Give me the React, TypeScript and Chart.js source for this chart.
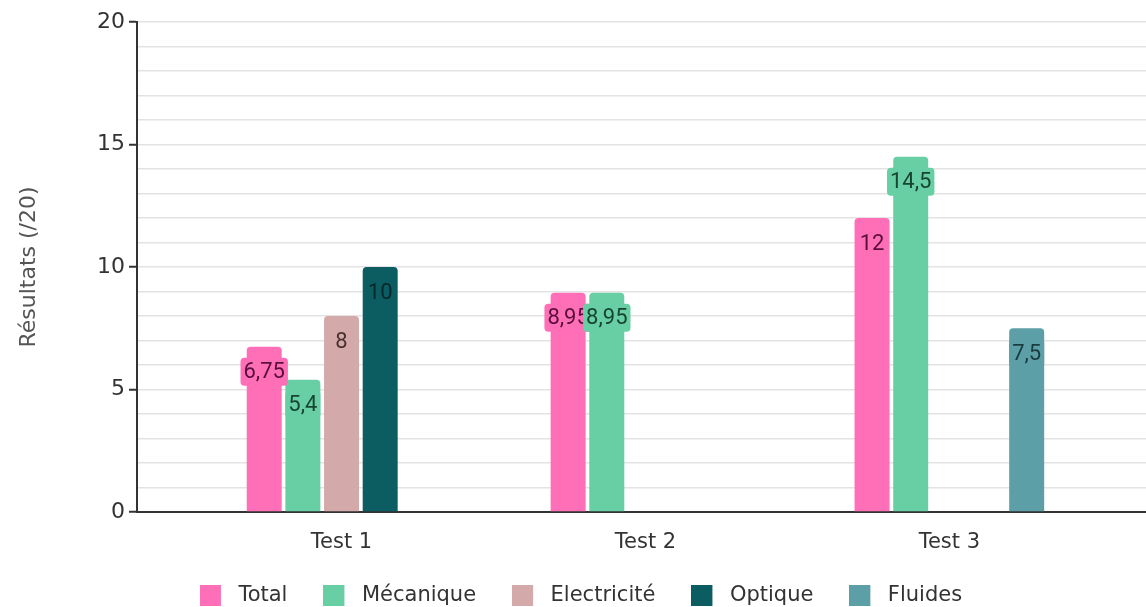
import React, { useEffect, useRef } from "react";
import { Chart, registerables } from "chart.js";

Chart.register(...registerables);

const categories = ["Test 1", "Test 2", "Test 3"];
const categoryPositions = [1, 2, 3];
const seriesNames = ["Total", "Mécanique", "Electricité", "Optique", "Fluides"];
const totalValues = [6.75, 8.95, 12];
const mecaniqueValues = [5.4, 8.95, 14.5];
const electriciteValues = [8, null, null];
const optiqueValues = [10, null, null];
const fluidesValues = [null, null, 7.5];
const yTicks = [0, 5, 10, 15, 20];

const seriesValues = [totalValues, mecaniqueValues, electriciteValues, optiqueValues, fluidesValues];
const barColors = ["#ff6fb7", "#68cfa5", "#d4a9a9", "#0c5d61", "#5c9fa6"];
const labelColors = ["#5a0e3c", "#17452f", "#4a3131", "#05292b", "#1a3c40"];

const FONT = "'DejaVu Sans', 'Noto Sans', sans-serif";

const valueLabelPlugin = {
  id: "valueLabels",
  afterDatasetsDraw(chart: any) {
    const ctx = chart.ctx;
    ctx.save();
    ctx.font = "22px Roboto, 'Noto Sans', sans-serif";
    ctx.textAlign = "center";
    ctx.textBaseline = "middle";
    chart.data.datasets.forEach((ds: any, di: number) => {
      const meta = chart.getDatasetMeta(di);
      meta.data.forEach((bar: any, i: number) => {
        const v = ds.data[i].y;
        if (v == null) return;
        const text = String(v).replace(".", ",");
        const w = ctx.measureText(text).width;
        const cx = bar.x;
        const cy = bar.y + 25;
        ctx.fillStyle = barColors[di];
        ctx.beginPath();
        (ctx as any).roundRect(cx - w / 2 - 3, cy - 14, w + 6, 28, 4);
        ctx.fill();
        ctx.fillStyle = labelColors[di];
        ctx.fillText(text, cx, cy + 1);
      });
    });
    ctx.restore();
  },
};

function makeLegendSwatch(color: string) {
  const c = document.createElement("canvas");
  c.width = 28;
  c.height = 21;
  const g = c.getContext("2d");
  if (g) {
    g.fillStyle = color;
    g.fillRect(0, 0, 21, 21);
  }
  return c;
}

export default function App() {
  const ref = useRef<HTMLCanvasElement | null>(null);
  useEffect(() => {
    if (!ref.current) return;
    const swatches = barColors.map(makeLegendSwatch);
    const chart = new Chart(ref.current, {
      type: "bar",
      data: {
        datasets: seriesNames.map((name, di) => ({
          label: name,
          data: categoryPositions.map((x, i) => ({ x, y: seriesValues[di][i] })),
          backgroundColor: barColors[di],
          borderRadius: { topLeft: 4, topRight: 4, bottomLeft: 0, bottomRight: 0 },
          borderSkipped: "bottom",
          categoryPercentage: 0.636,
          barPercentage: 0.905,
        })),
      } as any,
      options: {
        animation: false,
        responsive: true,
        maintainAspectRatio: false,
        layout: { padding: { top: 22, left: 16, right: 0, bottom: 0 } },
        plugins: {
          tooltip: { enabled: false },
          legend: {
            position: "bottom",
            maxHeight: 58,
            labels: {
              usePointStyle: true,
              pointStyleWidth: 28,
              boxHeight: 21,
              padding: 36,
              color: "#333",
              font: { family: FONT, size: 21 },
              generateLabels: (ch: any) => {
                const items = Chart.defaults.plugins.legend.labels.generateLabels(ch);
                items.forEach((it: any, i: number) => {
                  it.pointStyle = swatches[it.datasetIndex ?? i];
                });
                return items;
              },
            },
            onClick: () => {},
          },
        },
        scales: {
          x: {
            type: "linear",
            min: 0.327,
            max: 3.647,
            offset: false,
            grid: { display: false },
            border: { display: true, color: "#333", width: 2 },
            afterBuildTicks: (axis: any) => {
              axis.ticks = categoryPositions.map((v) => ({ value: v }));
            },
            afterFit: (axis: any) => {
              axis.height = 37;
            },
            ticks: {
              autoSkip: false,
              maxRotation: 0,
              padding: 10,
              color: "#333",
              font: { family: FONT, size: 21 },
              callback: (v: any) => categories[categoryPositions.indexOf(Number(v))] ?? "",
            },
          },
          y: {
            min: 0,
            max: 20,
            afterBuildTicks: (axis: any) => {
              const t = [];
              for (let v = yTicks[0]; v <= yTicks[yTicks.length - 1]; v += 1) t.push({ value: v });
              axis.ticks = t;
            },
            afterFit: (axis: any) => {
              axis.width = 121;
            },
            grid: {
              color: "#e3e3e3",
              lineWidth: 1.5,
              tickLength: 8,
              tickColor: (c: any) => (yTicks.includes(c.tick?.value) ? "#333" : "rgba(0,0,0,0)"),
              tickWidth: 2,
            },
            border: { display: true, color: "#333", width: 2 },
            ticks: {
              autoSkip: false,
              padding: 4,
              color: "#333",
              font: { family: FONT, size: 22 },
              callback: (v: any) => (yTicks.includes(Number(v)) ? String(v) : ""),
            },
            title: {
              display: true,
              text: "Résultats (/20)",
              color: "#555",
              font: { family: FONT, size: 22 },
              padding: { top: 0, bottom: 0 },
            },
          },
        },
      } as any,
      plugins: [valueLabelPlugin],
    });
    return () => chart.destroy();
  }, []);
  return (
    <div style={{ position: "absolute", left: 0, top: 0, width: 1146, height: 607, background: "#fff" }}>
      <canvas ref={ref} />
    </div>
  );
}
